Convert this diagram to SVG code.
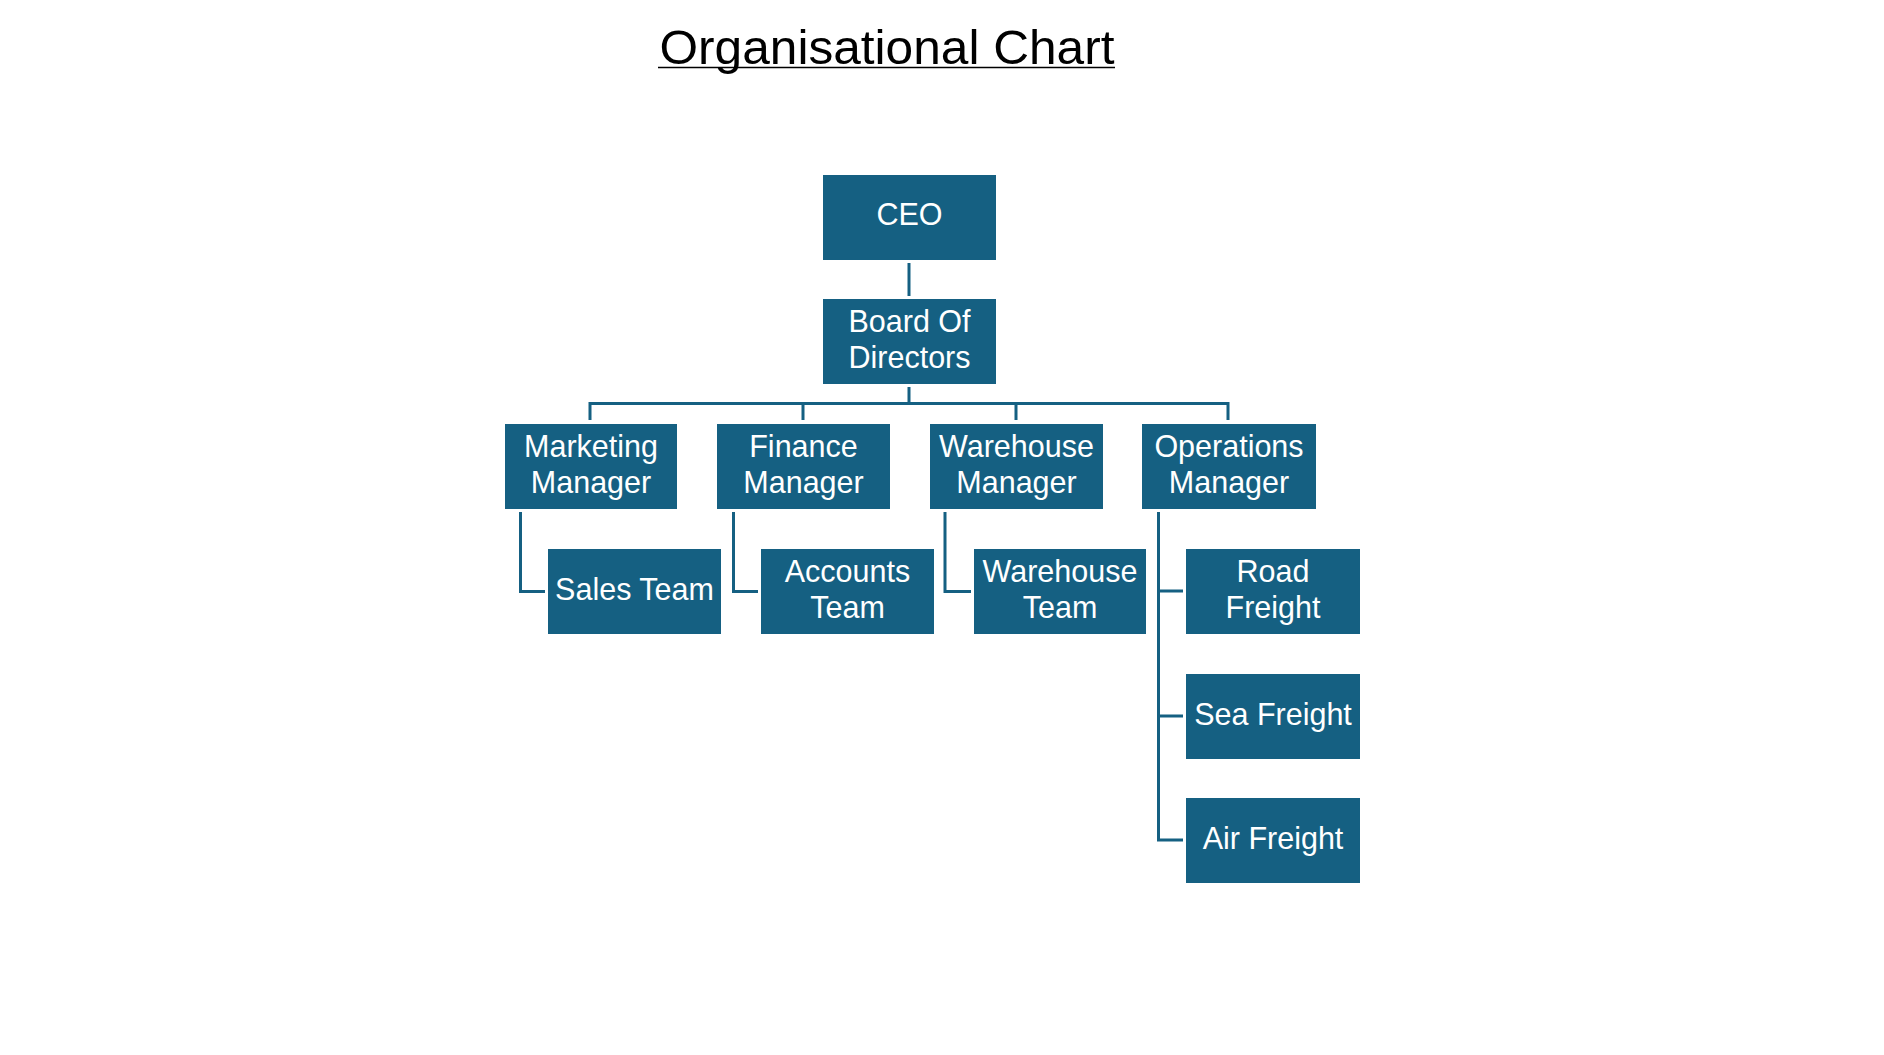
<svg xmlns="http://www.w3.org/2000/svg" width="1884" height="1055" viewBox="0 0 1884 1055">
<style>
.box{fill:#156082}
.t{font-family:"Liberation Sans",Arial,sans-serif;font-size:30.5px;fill:#ffffff;text-anchor:middle}
.c{fill:none;stroke:#156082;stroke-width:3}
.title{font-family:"Liberation Sans",Arial,sans-serif;font-size:48px;fill:#000000;text-anchor:middle}
</style>
<rect width="1884" height="1055" fill="#ffffff"/>
<g id="title">
<text class="title" x="887" y="64" textLength="455" lengthAdjust="spacingAndGlyphs">Organisational Chart</text>
<line x1="658" y1="67.5" x2="1115" y2="67.5" stroke="#000" stroke-width="1.5"/>
</g>
<g id="connectors">
<line class="c" x1="909" y1="263" x2="909" y2="296"/>
<path class="c" d="M909 387 V403.5 M590 420 V403.5 H1228 V420 M803 403.5 V420 M1016 403.5 V420"/>
<path class="c" d="M520.5 512 V591.5 H545"/>
<path class="c" d="M733.5 512 V591.5 H758"/>
<path class="c" d="M945 512 V591.5 H971"/>
<path class="c" d="M1158.5 512 V840 H1183 M1158.5 591 H1183 M1158.5 716 H1183"/>
</g>
<g id="ceo"><rect class="box" x="823" y="175" width="173" height="85"/><text class="t" x="909.5" y="225">CEO</text></g>
<g id="board"><rect class="box" x="823" y="299" width="173" height="85"/><text class="t" x="909.5" y="332">Board Of</text><text class="t" x="909.5" y="368">Directors</text></g>
<g id="marketing"><rect class="box" x="505" y="424" width="172" height="85"/><text class="t" x="591" y="457">Marketing</text><text class="t" x="591" y="493">Manager</text></g>
<g id="finance"><rect class="box" x="717" y="424" width="173" height="85"/><text class="t" x="803.5" y="457">Finance</text><text class="t" x="803.5" y="493">Manager</text></g>
<g id="warehouse-manager"><rect class="box" x="930" y="424" width="173" height="85"/><text class="t" x="1016.5" y="457">Warehouse</text><text class="t" x="1016.5" y="493">Manager</text></g>
<g id="operations"><rect class="box" x="1142" y="424" width="174" height="85"/><text class="t" x="1229" y="457">Operations</text><text class="t" x="1229" y="493">Manager</text></g>
<g id="sales"><rect class="box" x="548" y="549" width="173" height="85"/><text class="t" x="634.5" y="600">Sales Team</text></g>
<g id="accounts"><rect class="box" x="761" y="549" width="173" height="85"/><text class="t" x="847.5" y="582">Accounts</text><text class="t" x="847.5" y="618">Team</text></g>
<g id="warehouse-team"><rect class="box" x="974" y="549" width="172" height="85"/><text class="t" x="1060" y="582">Warehouse</text><text class="t" x="1060" y="618">Team</text></g>
<g id="road"><rect class="box" x="1186" y="549" width="174" height="85"/><text class="t" x="1273" y="582">Road</text><text class="t" x="1273" y="618">Freight</text></g>
<g id="sea"><rect class="box" x="1186" y="674" width="174" height="85"/><text class="t" x="1273" y="725">Sea Freight</text></g>
<g id="air"><rect class="box" x="1186" y="798" width="174" height="85"/><text class="t" x="1273" y="849">Air Freight</text></g>
</svg>
